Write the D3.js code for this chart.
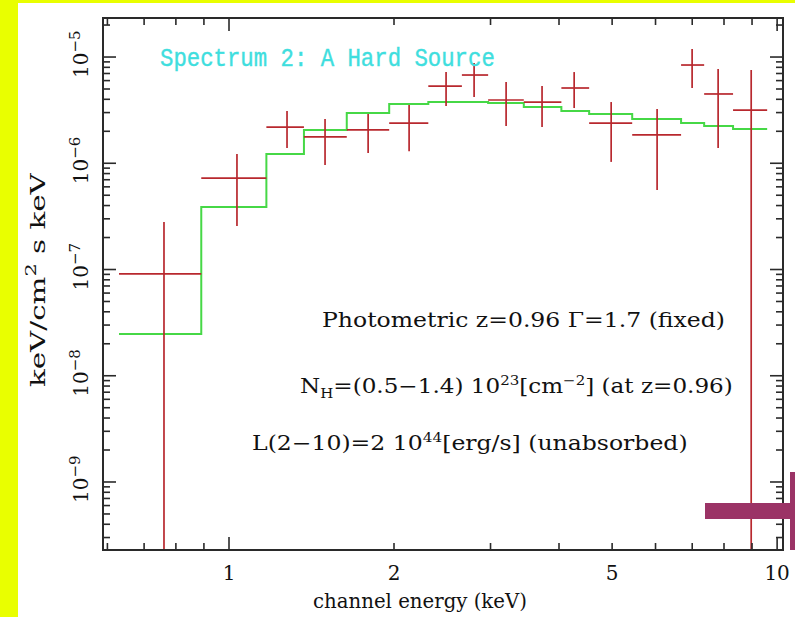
<!DOCTYPE html>
<html><head><meta charset="utf-8">
<script src="https://cdn.jsdelivr.net/npm/d3@7"></script>
<style>html,body{margin:0;padding:0;background:#fff;} svg{display:block}</style>
</head><body>
<svg id="c" width="795" height="617"></svg>
<script>
// ---- data ----
const binLo  = [0.63,0.89,1.17,1.37,1.64,1.96,2.31,2.66,2.97,3.45,4.04,4.54,5.44,6.68,7.36,8.31];
const binHi  = [0.89,1.17,1.37,1.64,1.96,2.31,2.66,2.97,3.45,4.04,4.54,5.44,6.68,7.36,8.31,9.59];
const energy = [0.761,1.034,1.276,1.497,1.794,2.131,2.489,2.800,3.203,3.725,4.263,4.980,6.040,6.997,7.805,8.968];
const flux   = [9.08e-8,7.26e-7,2.19e-6,1.77e-6,2.06e-6,2.39e-6,5.33e-6,6.77e-6,3.94e-6,3.77e-6,5.11e-6,2.39e-6,1.85e-6,8.41e-6,4.49e-6,3.17e-6];
const fluxHi = [2.80e-7,1.22e-6,3.10e-6,2.61e-6,2.91e-6,3.53e-6,7.22e-6,8.78e-6,5.82e-6,5.33e-6,7.22e-6,3.77e-6,3.24e-6,1.19e-5,7.71e-6,7.55e-6];
const fluxLo = [1e-10,2.57e-7,1.39e-6,9.64e-7,1.25e-6,1.30e-6,3.46e-6,4.21e-6,2.24e-6,2.19e-6,3.31e-6,1.03e-6,5.60e-7,5.11e-6,1.39e-6,1e-10];
const model  = [2.47e-8,3.88e-7,1.22e-6,2.06e-6,2.97e-6,3.61e-6,3.77e-6,3.77e-6,3.69e-6,3.38e-6,3.10e-6,2.91e-6,2.61e-6,2.39e-6,2.24e-6,2.10e-6];

const xLabelTicks = [1,2,5,10];
const xLabelText  = ["1","2","5","10"];
const xMajorTicks = [1,10];
const xMinorTicks = [0.6,0.7,0.8,0.9,2,3,4,5,6,7,8,9];
const yExponents  = [-5,-6,-7,-8,-9];
const yTickText   = ["\u22125","\u22126","\u22127","\u22128","\u22129"];

const titleText = "Spectrum 2: A Hard Source";
const xTitle = "channel energy (keV)";

// ---- layout ----
const W = 795, H = 617;
const L = 103, R = 783, T = 18, B = 550;
const svg = d3.select("#c");

svg.append("rect").attr("width", W).attr("height", H).attr("fill", "#e9ff00");
svg.append("rect").attr("x", 18).attr("y", 3).attr("width", W-18).attr("height", H-3).attr("fill", "#ffffff");

const x = d3.scaleLog().domain([0.589, 10.25]).range([L, R]);
const y = d3.scaleLog().domain([2.29e-10, 2.33e-5]).range([B, T]);

svg.append("clipPath").attr("id","pc").append("rect")
  .attr("x", L).attr("y", T).attr("width", R-L).attr("height", B-T);

const plot = svg.append("g").attr("clip-path","url(#pc)");

// model step line
const stepPts = binLo.map((d,i)=>[d, model[i]]).concat([[binHi[binHi.length-1], model[model.length-1]]]);
plot.append("path")
  .attr("d", d3.line().x(d=>x(d[0])).y(d=>y(d[1])).curve(d3.curveStepAfter)(stepPts))
  .attr("fill","none").attr("stroke","#46d846").attr("stroke-width",2);

// data crosses
const red = "#b8282e";
const idx = d3.range(flux.length);
plot.selectAll("line.h").data(idx).join("line").attr("class","h")
  .attr("x1", i=>x(binLo[i])).attr("x2", i=>x(binHi[i]))
  .attr("y1", i=>y(flux[i])).attr("y2", i=>y(flux[i]))
  .attr("stroke", red).attr("stroke-width", 1.7);
plot.selectAll("line.v").data(idx).join("line").attr("class","v")
  .attr("x1", i=>x(energy[i])).attr("x2", i=>x(energy[i]))
  .attr("y1", i=>y(fluxLo[i])).attr("y2", i=>y(fluxHi[i]))
  .attr("stroke", red).attr("stroke-width", 1.7);

// frame & ticks
const axisCol = "#2a2a2a";
const tk = svg.append("g").attr("stroke", axisCol).attr("stroke-width", 1.6);
const MAJ = 13, MIN = 7;
xMajorTicks.concat(xMinorTicks).forEach(v=>{
  const len = xMajorTicks.includes(v) ? MAJ : MIN;
  const px = x(v);
  if (px < L || px > R) return;
  tk.append("line").attr("x1",px).attr("x2",px).attr("y1",B).attr("y2",B-len);
  tk.append("line").attr("x1",px).attr("x2",px).attr("y1",T).attr("y2",T+len);
});
const yMaj = yExponents.map(e=>Math.pow(10,e));
const yMin = [];
for (let e=-10; e<=-5; e++) for (let k=2;k<=9;k++) yMin.push(k*Math.pow(10,e));
yMaj.concat(yMin).forEach(v=>{
  const py = y(v);
  if (py < T || py > B) return;
  const len = yMaj.some(m=>Math.abs(m-v)/m<1e-9) ? MAJ : MIN;
  tk.append("line").attr("x1",L).attr("x2",L+len).attr("y1",py).attr("y2",py);
  tk.append("line").attr("x1",R).attr("x2",R-len).attr("y1",py).attr("y2",py);
});
svg.append("rect").attr("x",L).attr("y",T).attr("width",R-L).attr("height",B-T)
  .attr("fill","none").attr("stroke",axisCol).attr("stroke-width",2);

const serif = "'DejaVu Serif', 'Liberation Serif', serif";

// x tick labels
svg.selectAll("text.xt").data(xLabelTicks).join("text").attr("class","xt")
  .attr("x", d=>x(d)).attr("y", 580).attr("text-anchor","middle")
  .attr("font-family", serif).attr("font-size", 20).attr("fill","#111")
  .text((d,i)=>xLabelText[i]);

// y tick labels (rotated)
yExponents.forEach((e,i)=>{
  const t = svg.append("text")
    .attr("transform", `translate(88,${y(Math.pow(10,e))}) rotate(-90)`)
    .attr("x", -21).attr("y", 0)
    .attr("font-family", serif).attr("font-size", 20).attr("fill","#111");
  t.append("tspan").text("10");
  t.append("tspan").attr("dy", -8).attr("font-size", 15).text(yTickText[i]);
});

function fit(sel, x0, width, y0) {
  const w = sel.node().getBBox().width;
  sel.attr("x", 0).attr("y", 0)
     .attr("transform", `translate(${x0},${y0}) scale(${width/w},1)`);
}

// y axis title
const yt = svg.append("text").attr("font-family", serif).attr("font-size", 21).attr("fill","#111");
yt.append("tspan").text("keV/cm");
yt.append("tspan").attr("dy",-9).attr("font-size",15).text("2");
yt.append("tspan").attr("dy",9).text(" s keV");
{
  const w = yt.node().getBBox().width;
  yt.attr("x",0).attr("y",0).attr("transform", `translate(45,387) rotate(-90) scale(${215/w},1)`);
}

// x axis title
const xt = svg.append("text").attr("font-family", serif).attr("font-size", 20).attr("fill","#111").text(xTitle);
fit(xt, 313, 214, 608);

// title
const tt = svg.append("text").attr("font-family","'Liberation Mono', 'DejaVu Sans Mono', monospace")
  .attr("font-size", 25).attr("fill","#3fdede").attr("stroke","#3fdede").attr("stroke-width",0.4)
  .text(titleText);
fit(tt, 160, 335, 66);

// annotations
const a1 = svg.append("text").attr("font-family", serif).attr("font-size", 20).attr("fill","#111")
  .text("Photometric z=0.96 \u0393=1.7 (fixed)");
fit(a1, 322, 403, 327);

const a2 = svg.append("text").attr("font-family", serif).attr("font-size", 20).attr("fill","#111");
a2.append("tspan").text("N");
a2.append("tspan").attr("dy",5).attr("font-size",13).text("H");
a2.append("tspan").attr("dy",-5).text("=(0.5\u22121.4) 10");
a2.append("tspan").attr("dy",-8).attr("font-size",13).text("23");
a2.append("tspan").attr("dy",8).text("[cm");
a2.append("tspan").attr("dy",-8).attr("font-size",13).text("\u22122");
a2.append("tspan").attr("dy",8).text("] (at z=0.96)");
fit(a2, 300, 433, 393);

const a3 = svg.append("text").attr("font-family", serif).attr("font-size", 20).attr("fill","#111");
a3.append("tspan").text("L(2\u221210)=2 10");
a3.append("tspan").attr("dy",-8).attr("font-size",13).text("44");
a3.append("tspan").attr("dy",8).text("[erg/s] (unabsorbed)");
fit(a3, 252, 436, 450);

// purple marker at the right edge
svg.append("rect").attr("x",705).attr("y",503).attr("width",90).attr("height",16).attr("fill","#9b3366");
svg.append("rect").attr("x",790).attr("y",472).attr("width",5).attr("height",78).attr("fill","#9b3366");
</script>
</body></html>
